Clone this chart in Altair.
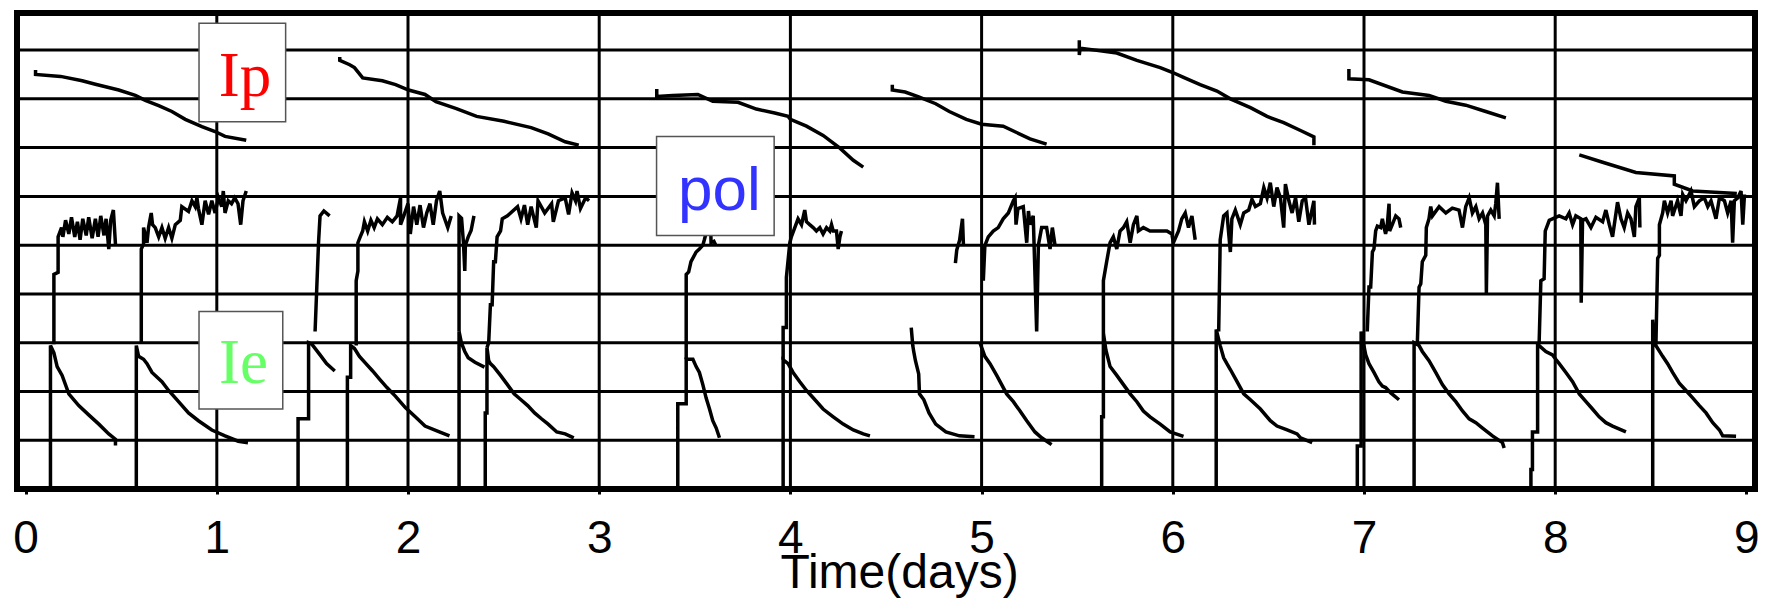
import altair as alt
import pandas as pd

# ---------------- data (time in days, level in grid units) ----------------
X_TICKS = [0, 1, 2, 3, 4, 5, 6, 7, 8, 9]
GRID_DAYS = [1, 2, 3, 4, 5, 6, 7, 8]
GRID_LEVELS = [1, 2, 3, 4, 5, 6, 7, 8, 9]

# Ip (top, declining segments)
ip1 = [(0.052, 8.59), (0.052, 8.50), (0.183, 8.46), (0.296, 8.37), (0.365, 8.30), (0.487, 8.18),
       (0.574, 8.07), (0.626, 7.97), (0.696, 7.86), (0.765, 7.74), (0.835, 7.58), (0.922, 7.43),
       (0.991, 7.33), (1.043, 7.23), (1.154, 7.15)]
ip2 = [(1.643, 8.86), (1.643, 8.79), (1.695, 8.70), (1.72, 8.64), (1.763, 8.43), (1.866, 8.37),
       (1.935, 8.29), (2.003, 8.18), (2.089, 8.09), (2.146, 7.94), (2.253, 7.80), (2.359, 7.64),
       (2.502, 7.54), (2.644, 7.41), (2.733, 7.28), (2.822, 7.12), (2.893, 7.05)]
ip3 = [(3.301, 8.20), (3.301, 8.05), (3.385, 8.07), (3.516, 8.09), (3.594, 7.95), (3.726, 7.93),
       (3.822, 7.79), (3.918, 7.71), (3.988, 7.64), (4.0, 7.58), (4.084, 7.44), (4.171, 7.25),
       (4.259, 6.99), (4.329, 6.74), (4.381, 6.60)]
ip4 = [(4.533, 8.29), (4.533, 8.18), (4.60, 8.14), (4.671, 8.04), (4.76, 7.90), (4.831, 7.74),
       (4.92, 7.58), (5.0, 7.48), (5.113, 7.44), (5.183, 7.31), (5.253, 7.18), (5.34, 7.07)]
ip5 = [(5.511, 9.20), (5.511, 8.90), (5.515, 9.04), (5.707, 8.94), (5.812, 8.79), (5.934, 8.64),
       (6.0, 8.54), (6.056, 8.44), (6.143, 8.29), (6.231, 8.16), (6.301, 8.0), (6.406, 7.82),
       (6.493, 7.64), (6.58, 7.51), (6.668, 7.35), (6.738, 7.22), (6.738, 7.05)]
ip6 = [(6.921, 8.61), (6.921, 8.41), (7.026, 8.39), (7.201, 8.14), (7.340, 8.07), (7.428, 7.95),
       (7.532, 7.87), (7.637, 7.74), (7.742, 7.61)]
ip7 = [(8.126, 6.85), (8.248, 6.70), (8.422, 6.49), (8.623, 6.42), (8.623, 6.25), (8.719, 6.11),
       (8.95, 6.06)]

# pol (middle, noisy plateaus)
pol1 = [(0.148, 2.97), (0.148, 4.40), (0.170, 4.44), (0.170, 5.17), (0.188, 5.36), (0.195, 5.17),
        (0.209, 5.51), (0.226, 5.23), (0.240, 5.57), (0.257, 5.17), (0.271, 5.48), (0.285, 5.11),
        (0.299, 5.54), (0.317, 5.20), (0.330, 5.57), (0.348, 5.14), (0.365, 5.54), (0.379, 5.17),
        (0.393, 5.60), (0.410, 5.20), (0.421, 5.54), (0.435, 4.92), (0.445, 5.51), (0.459, 5.72),
        (0.470, 5.02)]
pol2 = [(0.605, 3.0), (0.605, 4.92), (0.617, 5.02), (0.617, 5.36), (0.635, 5.05), (0.643, 5.36),
        (0.657, 5.66), (0.664, 5.42), (0.678, 5.36), (0.696, 5.17), (0.713, 5.36), (0.730, 5.14),
        (0.748, 5.36), (0.765, 5.14), (0.783, 5.42), (0.809, 5.51), (0.817, 5.79), (0.852, 5.69),
        (0.870, 5.91), (0.887, 5.79), (0.896, 5.97), (0.904, 5.75), (0.922, 5.42), (0.939, 5.91),
        (0.957, 5.63), (0.974, 5.91), (0.991, 5.66), (1.009, 5.97), (1.026, 5.79), (1.034, 6.11),
        (1.043, 5.66), (1.060, 5.91), (1.077, 5.85), (1.094, 5.97), (1.111, 5.85), (1.125, 5.42),
        (1.137, 5.91), (1.154, 6.11)]
pol3 = [(1.514, 3.23), (1.532, 5.05), (1.54, 5.60), (1.56, 5.70), (1.59, 5.60)]
pol4 = [(1.729, 2.94), (1.729, 4.27), (1.738, 4.47), (1.738, 5.05), (1.75, 5.17), (1.763, 5.29),
        (1.772, 5.48), (1.789, 5.29), (1.806, 5.51), (1.823, 5.36), (1.84, 5.54), (1.866, 5.42),
        (1.892, 5.57), (1.918, 5.48), (1.943, 5.60), (1.961, 5.97), (1.961, 5.42), (1.978, 5.60),
        (2.0, 5.85), (2.012, 5.23), (2.029, 5.79), (2.046, 5.42), (2.063, 5.82), (2.081, 5.36),
        (2.098, 5.66), (2.115, 5.85), (2.132, 5.42), (2.149, 5.91), (2.166, 6.11), (2.181, 5.66),
        (2.208, 5.36), (2.226, 5.60)]
pol5a = [(2.267, 3.23), (2.267, 5.60), (2.28, 5.55), (2.29, 5.05), (2.297, 4.47), (2.30, 5.0),
         (2.315, 5.17), (2.33, 5.30), (2.345, 5.60)]
pol5b = [(2.413, 2.90), (2.422, 3.0), (2.431, 3.78), (2.44, 3.78), (2.448, 4.66), (2.457, 4.66),
         (2.466, 5.17), (2.484, 5.29), (2.493, 5.54), (2.52, 5.60), (2.573, 5.79), (2.591, 5.54),
         (2.609, 5.82), (2.626, 5.42), (2.644, 5.79), (2.671, 5.36), (2.680, 5.91), (2.715, 5.66),
         (2.751, 5.85), (2.76, 5.48), (2.787, 5.91), (2.822, 5.97), (2.84, 5.63), (2.858, 6.07),
         (2.876, 5.91), (2.884, 6.11), (2.902, 5.75), (2.929, 5.97), (2.947, 5.91)]
pol6 = [(3.455, 2.66), (3.455, 4.40), (3.468, 4.45), (3.48, 4.66), (3.507, 4.86), (3.524, 4.92),
        (3.542, 5.0), (3.55, 5.11), (3.56, 5.26), (3.57, 5.6), (3.58, 5.9), (3.585, 5.05),
        (3.6, 5.08), (3.61, 5.0)]
pol7 = [(3.962, 2.65), (3.962, 3.31), (3.979, 3.31), (3.979, 4.34), (3.997, 5.05), (4.005, 5.17),
        (4.023, 5.36), (4.04, 5.54), (4.058, 5.42), (4.075, 5.72), (4.084, 5.48), (4.101, 5.42),
        (4.119, 5.36), (4.136, 5.29), (4.154, 5.36), (4.171, 5.23), (4.189, 5.36), (4.206, 5.29),
        (4.215, 5.42), (4.224, 5.29), (4.241, 5.29), (4.25, 4.92), (4.259, 5.17), (4.267, 5.29)]
pol8 = [(4.863, 4.63), (4.87, 4.90), (4.885, 5.10), (4.90, 5.54), (4.905, 5.0)]
pol9 = [(5.009, 4.27), (5.017, 4.99), (5.035, 5.17), (5.061, 5.29), (5.087, 5.36), (5.113, 5.54),
        (5.14, 5.66), (5.166, 5.91), (5.175, 5.97), (5.18, 5.42), (5.19, 5.75), (5.218, 5.79),
        (5.236, 5.05), (5.245, 5.70), (5.253, 5.42), (5.27, 5.60), (5.288, 3.23), (5.297, 5.0),
        (5.314, 5.36), (5.34, 5.36), (5.358, 4.92), (5.37, 5.36), (5.384, 5.0)]
pol10 = [(5.637, 3.2), (5.637, 4.27), (5.654, 4.66), (5.672, 5.05), (5.689, 5.17), (5.707, 4.92),
         (5.724, 5.29), (5.742, 5.36), (5.759, 5.48), (5.777, 5.05), (5.794, 5.42), (5.812, 5.60),
         (5.82, 5.29), (5.846, 5.36), (5.881, 5.29), (5.916, 5.29), (5.969, 5.29), (5.995, 5.23),
         (6.003, 5.05), (6.03, 5.29), (6.047, 5.54), (6.065, 5.66), (6.082, 5.36), (6.1, 5.60),
         (6.117, 5.11)]
pol11 = [(6.24, 3.23), (6.248, 5.11), (6.266, 5.60), (6.283, 5.66), (6.301, 4.86), (6.309, 5.54),
         (6.327, 5.72), (6.353, 5.42), (6.371, 5.66), (6.397, 5.72), (6.414, 5.94), (6.432, 5.79),
         (6.458, 5.85), (6.476, 6.18), (6.493, 5.97), (6.51, 6.28), (6.528, 5.79), (6.545, 6.18),
         (6.563, 5.97), (6.58, 5.36), (6.589, 6.25), (6.607, 5.91), (6.624, 5.66), (6.642, 5.97),
         (6.659, 5.48), (6.677, 5.91), (6.694, 5.97), (6.712, 5.42), (6.738, 5.91), (6.741, 5.42)]
pol12 = [(7.017, 3.23), (7.026, 4.14), (7.035, 4.14), (7.044, 4.86), (7.052, 4.92), (7.061, 5.29),
         (7.07, 5.39), (7.087, 5.36), (7.096, 5.54), (7.105, 5.36), (7.113, 5.23), (7.122, 5.42),
         (7.131, 5.85), (7.134, 5.29), (7.148, 5.42), (7.166, 5.60), (7.183, 5.54), (7.192, 5.36)]
pol13 = [(7.279, 3.0), (7.288, 4.14), (7.297, 4.21), (7.305, 4.66), (7.323, 4.79), (7.326, 5.36),
         (7.34, 5.54), (7.349, 5.79), (7.358, 5.60), (7.393, 5.79), (7.428, 5.66), (7.462, 5.76),
         (7.497, 5.72), (7.515, 5.36), (7.532, 5.79), (7.55, 5.97), (7.567, 5.66), (7.585, 5.79),
         (7.602, 5.54), (7.62, 5.66), (7.637, 5.42), (7.64, 4.01), (7.646, 5.60), (7.663, 5.72),
         (7.681, 5.60), (7.689, 5.85), (7.698, 6.28), (7.707, 5.54)]
pol14 = [(7.916, 3.0), (7.925, 4.27), (7.942, 4.31), (7.948, 5.29), (7.969, 5.51), (7.986, 5.54),
         (8.003, 5.57), (8.021, 5.60), (8.056, 5.54), (8.073, 5.66), (8.091, 5.42), (8.108, 5.60),
         (8.134, 5.54), (8.136, 3.82), (8.143, 5.51), (8.161, 5.54), (8.187, 5.36), (8.213, 5.57),
         (8.248, 5.48), (8.265, 5.72), (8.283, 5.42), (8.3, 5.17), (8.318, 5.66), (8.326, 5.88),
         (8.344, 5.54), (8.361, 5.36), (8.379, 5.66), (8.396, 5.54), (8.414, 5.17), (8.422, 5.79),
         (8.44, 5.97), (8.443, 5.36)]
pol15 = [(8.527, 3.0), (8.536, 4.73), (8.545, 4.79), (8.545, 5.42), (8.562, 5.66), (8.571, 5.91),
         (8.588, 5.66), (8.606, 5.91), (8.614, 5.60), (8.64, 5.91), (8.658, 5.60), (8.667, 6.04),
         (8.684, 5.91), (8.71, 6.11), (8.728, 5.79), (8.754, 5.91), (8.78, 5.97), (8.798, 5.79),
         (8.815, 5.91), (8.841, 5.54), (8.859, 5.97), (8.885, 5.91), (8.902, 5.66), (8.92, 5.91),
         (8.928, 5.05), (8.937, 5.91), (8.955, 5.97), (8.972, 6.11), (8.981, 5.42), (8.99, 6.04)]

# Ie (bottom, decaying segments)
ie1 = [(0.130, 0), (0.130, 2.94), (0.148, 2.79), (0.165, 2.51), (0.191, 2.33), (0.226, 1.95),
       (0.278, 1.71), (0.330, 1.52), (0.383, 1.33), (0.435, 1.13), (0.470, 1.02), (0.470, 0.89)]
ie2 = [(0.579, 0), (0.579, 2.94), (0.591, 2.72), (0.617, 2.66), (0.635, 2.57), (0.661, 2.39),
       (0.713, 2.20), (0.748, 2.02), (0.80, 1.79), (0.852, 1.56), (0.904, 1.40), (0.974, 1.21),
       (1.043, 1.09), (1.112, 0.98), (1.163, 0.95)]
ie3 = [(1.425, 0), (1.425, 1.44), (1.48, 1.44), (1.48, 3.0), (1.497, 2.97), (1.54, 2.75),
       (1.574, 2.57), (1.617, 2.42)]
ie4 = [(1.683, 0), (1.683, 2.29), (1.70, 2.29), (1.70, 2.94), (1.72, 2.88), (1.746, 2.72),
       (1.78, 2.57), (1.815, 2.42), (1.85, 2.26), (1.89, 2.08), (1.935, 1.90), (1.986, 1.67),
       (2.038, 1.48), (2.089, 1.29), (2.164, 1.17), (2.217, 1.09)]
ie5a = [(2.267, 0), (2.267, 3.23), (2.279, 3.0), (2.297, 2.82), (2.315, 2.69), (2.35, 2.60),
        (2.40, 2.50)]
ie5b = [(2.404, 0), (2.404, 1.56), (2.413, 1.56), (2.413, 2.90), (2.422, 2.63), (2.431, 2.57),
        (2.448, 2.51), (2.484, 2.33), (2.52, 2.14), (2.555, 1.95), (2.591, 1.83), (2.626, 1.71),
        (2.662, 1.56), (2.698, 1.44), (2.733, 1.33), (2.778, 1.17), (2.822, 1.13), (2.867, 1.05)]
ie6 = [(3.411, 0), (3.411, 1.75), (3.455, 1.75), (3.455, 2.66), (3.49, 2.66), (3.507, 2.51),
       (3.524, 2.39), (3.542, 2.14), (3.559, 1.87), (3.577, 1.64), (3.594, 1.40), (3.612, 1.25),
       (3.629, 1.05)]
ie7 = [(3.962, 0), (3.962, 2.65), (3.988, 2.57), (4.014, 2.39), (4.049, 2.20), (4.084, 2.02),
       (4.119, 1.87), (4.171, 1.64), (4.224, 1.48), (4.276, 1.33), (4.329, 1.21), (4.381, 1.13),
       (4.416, 1.09)]
ie8 = [(4.632, 3.31), (4.64, 2.94), (4.645, 2.82), (4.654, 2.63), (4.671, 2.36), (4.675, 1.95),
       (4.698, 1.83), (4.725, 1.56), (4.76, 1.33), (4.813, 1.17), (4.884, 1.09), (4.963, 1.07)]
ie9 = [(4.991, 3.0), (5.017, 2.72), (5.044, 2.57), (5.079, 2.33), (5.105, 2.14), (5.131, 1.95),
       (5.166, 1.79), (5.201, 1.60), (5.236, 1.40), (5.279, 1.17), (5.314, 1.05), (5.366, 0.91)]
ie10 = [(5.628, 0), (5.628, 1.48), (5.637, 1.48), (5.637, 3.2), (5.65, 2.85), (5.672, 2.51),
        (5.707, 2.33), (5.742, 2.14), (5.777, 1.95), (5.812, 1.79), (5.846, 1.60), (5.881, 1.48),
        (5.934, 1.33), (5.986, 1.17), (6.056, 1.08)]
ie11 = [(6.227, 0), (6.227, 3.27), (6.248, 2.94), (6.266, 2.69), (6.283, 2.57), (6.301, 2.45),
        (6.336, 2.20), (6.371, 1.95), (6.406, 1.83), (6.458, 1.64), (6.51, 1.40), (6.545, 1.29),
        (6.598, 1.21), (6.65, 1.13), (6.668, 1.05), (6.729, 0.95)]
ie12 = [(6.965, 0), (6.965, 0.88), (6.985, 0.88), (6.985, 3.23), (7.009, 2.75), (7.026, 2.57),
        (7.052, 2.39), (7.078, 2.20), (7.096, 2.11), (7.113, 2.08), (7.14, 1.97), (7.183, 1.83)]
ie13 = [(7.262, 0), (7.262, 3.0), (7.288, 2.94), (7.305, 2.82), (7.34, 2.63), (7.375, 2.39),
        (7.41, 2.14), (7.445, 1.95), (7.48, 1.79), (7.515, 1.60), (7.55, 1.44), (7.585, 1.36),
        (7.62, 1.25), (7.672, 1.09), (7.724, 0.95), (7.733, 0.84)]
ie14 = [(7.873, 0), (7.873, 0.40), (7.881, 0.40), (7.881, 1.17), (7.908, 1.17), (7.908, 3.0),
        (7.916, 2.94), (7.951, 2.82), (7.986, 2.75), (8.003, 2.66), (8.021, 2.57), (8.056, 2.39),
        (8.091, 2.20), (8.126, 1.95), (8.161, 1.79), (8.195, 1.64), (8.23, 1.48), (8.265, 1.36),
        (8.3, 1.29), (8.37, 1.17)]
ie15 = [(8.51, 0), (8.51, 3.47), (8.527, 2.94), (8.562, 2.72), (8.588, 2.57), (8.614, 2.39),
        (8.649, 2.17), (8.684, 2.02), (8.719, 1.87), (8.754, 1.71), (8.789, 1.56), (8.824, 1.36),
        (8.859, 1.21), (8.876, 1.09), (8.946, 1.08)]

# label boxes: text, box x-range, box y-range, text anchor
LABEL_TEXT = ["Ip", "Ie", "pol"]
LABEL_X0 = [0.907, 0.907, 3.30]
LABEL_X1 = [1.360, 1.345, 3.915]
LABEL_Y0 = [7.53, 1.64, 5.20]
LABEL_Y1 = [9.55, 3.64, 7.23]
LABEL_TX = [1.147, 1.14, 3.629]
LABEL_TY = [8.05, 2.18, 5.72]
LABEL_COLOR = ["#ff0000", "#66ff66", "#3333ff"]

# ---------------- build tables ----------------
segments = {
    "ip1": ip1, "ip2": ip2, "ip3": ip3, "ip4": ip4, "ip5": ip5, "ip6": ip6, "ip7": ip7,
    "pol1": pol1, "pol2": pol2, "pol3": pol3, "pol4": pol4, "pol5a": pol5a, "pol5b": pol5b,
    "pol6": pol6, "pol7": pol7, "pol8": pol8, "pol9": pol9, "pol10": pol10, "pol11": pol11,
    "pol12": pol12, "pol13": pol13, "pol14": pol14, "pol15": pol15,
    "ie1": ie1, "ie2": ie2, "ie3": ie3, "ie4": ie4, "ie5a": ie5a, "ie5b": ie5b, "ie6": ie6,
    "ie7": ie7, "ie8": ie8, "ie9": ie9, "ie10": ie10, "ie11": ie11, "ie12": ie12, "ie13": ie13,
    "ie14": ie14, "ie15": ie15,
}
rows = []
for name, pts in segments.items():
    for i, (t, v) in enumerate(pts):
        rows.append({"seg": name, "i": i, "t": t, "v": v})
lines_df = pd.DataFrame(rows)

labels_df = pd.DataFrame({
    "text": LABEL_TEXT, "x0": LABEL_X0, "x1": LABEL_X1, "y0": LABEL_Y0, "y1": LABEL_Y1,
    "tx": LABEL_TX, "ty": LABEL_TY, "color": LABEL_COLOR,
})
vgrid_df = pd.DataFrame({"t": GRID_DAYS})
hgrid_df = pd.DataFrame({"v": GRID_LEVELS})

xscale = alt.Scale(domain=[-0.045, 9.045], nice=False, zero=False)
yscale = alt.Scale(domain=[0, 9.76], nice=False, zero=False)
xaxis = alt.Axis(values=X_TICKS, title="Time(days)", grid=False, domain=False,
                 labelFlush=False, labelOverlap=False, format="d", titleX=882)


def X(field):
    return alt.X(field, type="quantitative", scale=xscale, axis=xaxis)


def Y(field):
    return alt.Y(field, type="quantitative", scale=yscale, axis=None)


vgrid = alt.Chart(vgrid_df).mark_rule(color="black", strokeWidth=3).encode(x=X("t"))
hgrid = alt.Chart(hgrid_df).mark_rule(color="black", strokeWidth=3).encode(y=Y("v"))

lines = alt.Chart(lines_df).mark_line(color="black", strokeWidth=3.5, interpolate="linear").encode(
    x=X("t"), y=Y("v"), detail="seg:N", order="i:Q"
)

boxes = alt.Chart(labels_df).mark_rect(fill="white", stroke="#555555", strokeWidth=1.5).encode(
    x=X("x0"), x2="x1", y=Y("y0"), y2="y1"
)

serif_text = alt.Chart(labels_df).transform_filter(
    alt.FieldOneOfPredicate(field="text", oneOf=["Ip", "Ie"])
).mark_text(font="Liberation Serif", fontSize=63, baseline="alphabetic", align="center").encode(
    x=X("tx"), y=Y("ty"), text="text:N",
    color=alt.Color("color:N", scale=None, legend=None),
)
sans_text = alt.Chart(labels_df).transform_filter(
    alt.FieldEqualPredicate(field="text", equal="pol")
).mark_text(font="Liberation Sans", fontSize=62, baseline="alphabetic", align="center").encode(
    x=X("tx"), y=Y("ty"), text="text:N",
    color=alt.Color("color:N", scale=None, legend=None),
)

chart = alt.layer(vgrid, hgrid, lines, boxes, serif_text, sans_text).properties(
    width=1738, height=476,
    autosize=alt.AutoSizeParams(type="none"),
    padding={"left": 17, "top": 13, "right": 10, "bottom": 109},
    background="white",
).configure_view(
    stroke="black", strokeWidth=6, fill="white"
).configure_axis(
    labelFont="Liberation Sans", labelFontSize=46, labelColor="black", labelPadding=22,
    tickSize=5, tickWidth=3, tickColor="black",
    titleFont="Liberation Sans", titleFontSize=48, titleFontWeight="normal", titleColor="black",
    titlePadding=-12,
)

chart.save("out.html", embed_options={"renderer": "svg", "actions": False})
